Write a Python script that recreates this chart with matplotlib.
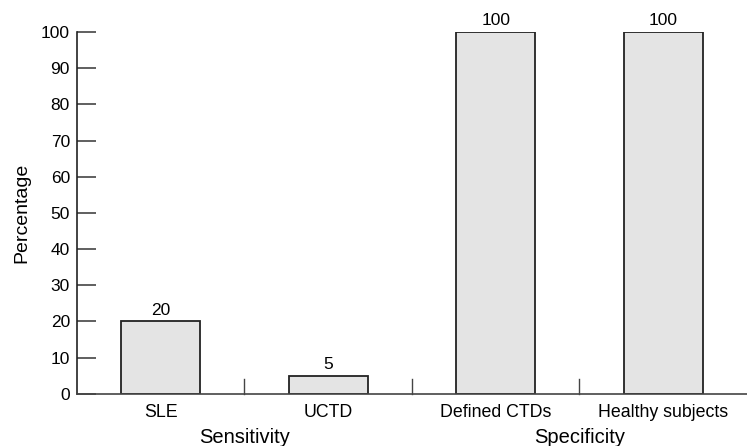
import matplotlib
matplotlib.use("Agg")
import matplotlib.pyplot as plt

# data
categories = ["SLE", "UCTD", "Defined CTDs", "Healthy subjects"]
values = [20, 5, 100, 100]
groups = ["Sensitivity", "Specificity"]
group_pos = [0.5, 2.5]
separators = [0.5, 1.5, 2.5]
yticks = list(range(0, 101, 10))

plt.rcParams['font.family'] = ['Liberation Sans', 'DejaVu Sans']

fig = plt.figure(figsize=(7.47, 4.46), dpi=100)
ax = fig.add_axes([0.103, 0.117, 0.897, 0.811])

x = list(range(len(categories)))
ax.bar(x, values, width=0.47, color="#e4e4e4", edgecolor="#222222", linewidth=1.3)
for xi, v in zip(x, values):
    ax.text(xi, v + 1.0, str(v), ha="center", va="bottom", fontsize=12.5)

ax.set_xlim(-0.5, 3.5)
ax.set_ylim(0, 100)
ax.set_yticks(yticks)
ax.tick_params(axis="y", direction="in", length=14, width=1.2, color="#444444", labelsize=12.5, pad=5)
ax.set_xticks(x)
ax.set_xticklabels(categories, fontsize=12.8)
ax.tick_params(axis="x", length=0, pad=7)

# small separator ticks between categories
for s in separators:
    ax.plot([s, s], [0, 4], color="#444444", lw=1.0, clip_on=False)

for g, gp in zip(groups, group_pos):
    ax.text(gp, -0.095, g, transform=ax.get_xaxis_transform(), ha="center", va="top", fontsize=14.5)

ax.set_ylabel("Percentage", fontsize=14, labelpad=8)
for side in ["top", "right"]:
    ax.spines[side].set_visible(False)
ax.spines["left"].set_color("#222222")
ax.spines["bottom"].set_color("#444444")
ax.spines["left"].set_linewidth(1.2)
ax.spines["bottom"].set_linewidth(1.2)

fig.savefig("out.png", dpi=100)
